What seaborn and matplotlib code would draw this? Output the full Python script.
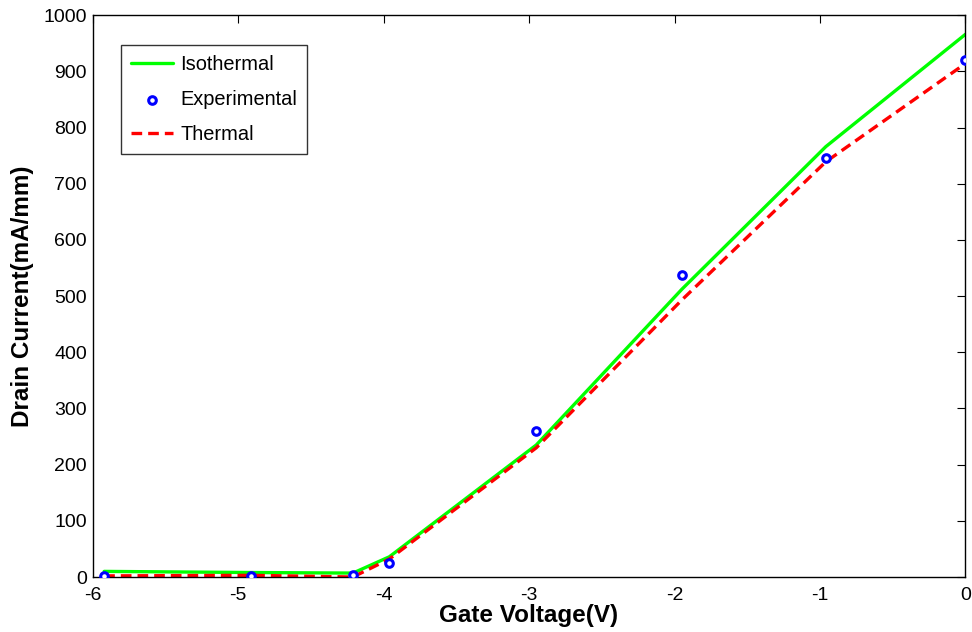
import matplotlib
matplotlib.use("Agg")
import matplotlib.pyplot as plt
import seaborn as sns
import pandas as pd

# Data
gate_v = [-5.92, -4.91, -4.21, -3.96, -2.95, -1.95, -0.96, 0.0]
isothermal = [10, 8, 7, 36, 235, 512, 766, 966]
experimental = [2, 2, 3, 25, 260, 537, 745, 920]
thermal = [2, 3, 0, 32, 230, 493, 739, 914]

x_ticks = [-6, -5, -4, -3, -2, -1, 0]
y_ticks = [0, 100, 200, 300, 400, 500, 600, 700, 800, 900, 1000]

sns.set_theme(style="white")
plt.rcParams['font.family'] = ['Liberation Sans', 'DejaVu Sans']
plt.rcParams['text.color'] = 'black'
plt.rcParams['axes.labelcolor'] = 'black'

fig = plt.figure(figsize=(9.72, 6.32), dpi=100)
ax = fig.add_axes([0.0952, 0.087, 0.8981, 0.889])

df = pd.DataFrame({"v": gate_v, "iso": isothermal, "exp": experimental, "th": thermal})

sns.lineplot(data=df, x="v", y="iso", ax=ax, color="#00ff00", linewidth=2.4,
             label="Isothermal", sort=False)
sns.scatterplot(data=df, x="v", y="exp", ax=ax, marker="o", s=30,
                facecolor="white", edgecolor="#0000ff", linewidth=2.2,
                label="Experimental", zorder=3)
sns.lineplot(data=df, x="v", y="th", ax=ax, color="#ff0000", linewidth=2.4,
             linestyle=(0, (3.2, 1.8)), label="Thermal", sort=False)

ax.set_xlim(-6, 0)
ax.set_ylim(0, 1000)
ax.set_xticks(x_ticks)
ax.set_yticks(y_ticks)
ax.set_xticklabels([str(t) for t in x_ticks])
ax.set_yticklabels([str(t) for t in y_ticks])
ax.tick_params(direction="in", length=6, width=0.8, top=True, right=True,
               labelsize=14, colors="black", labelcolor="black")
ax.tick_params(axis="x", pad=7)
ax.tick_params(axis="y", pad=4)
for sp in ax.spines.values():
    sp.set_visible(True)
    sp.set_color("black")
    sp.set_linewidth(1.0)

ax.set_xlabel("Gate Voltage(V)", fontsize=17.5, fontweight="bold", labelpad=0)
ax.set_ylabel("Drain Current(mA/mm)", fontsize=17.5, fontweight="bold", labelpad=7)

leg = ax.legend(loc="upper left", bbox_to_anchor=(0.033, 0.947), borderaxespad=0,
                fontsize=14.4, frameon=True, fancybox=False, handlelength=2.1,
                labelspacing=0.8, borderpad=0.5, handletextpad=0.35)
leg.get_frame().set_edgecolor("black")
leg.get_frame().set_linewidth(1.0)
for t in leg.get_texts():
    t.set_color("black")

fig.savefig("out.png", dpi=100, facecolor="white")
